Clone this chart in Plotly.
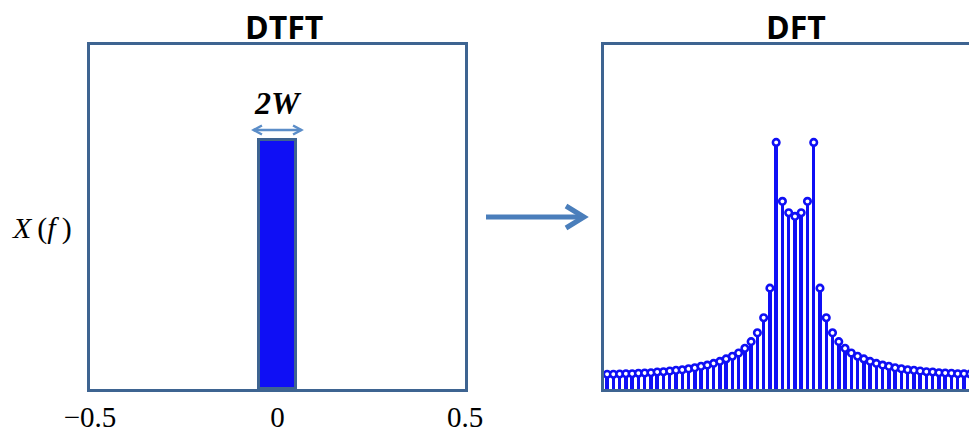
import plotly.graph_objects as go

# ---- data -------------------------------------------------------------
# Ideal band-limited spectrum (DTFT): a rectangle of half-width W around f = 0
W = 0.05
dtft_height = 1.0
dtft_ticks = [-0.5, 0, 0.5]
dtft_ticktext = ["\u22120.5", "0", "0.5"]

# Magnitude of the DFT samples (centred bin index k)
dft_bins = list(range(-30, 31))
dft_mag = [
    0.060, 0.060, 0.061, 0.062, 0.062, 0.064, 0.065, 0.066, 0.069, 0.070,
    0.073, 0.076, 0.078, 0.082, 0.086, 0.092, 0.097, 0.104, 0.112, 0.122,
    0.133, 0.146, 0.165, 0.192, 0.228, 0.289, 0.409, 1.000, 0.761, 0.715,
    0.700,
    0.715, 0.761, 1.000, 0.409, 0.289, 0.228, 0.192, 0.165, 0.146, 0.133,
    0.122, 0.112, 0.104, 0.097, 0.092, 0.086, 0.082, 0.078, 0.076, 0.073,
    0.070, 0.069, 0.066, 0.065, 0.064, 0.062, 0.062, 0.061, 0.060, 0.060,
]

# ---- layout helpers ---------------------------------------------------
FIG_W, FIG_H = 969, 431
BOX = "#3E6491"
BLUE = "#0F0FF5"
ARROW = "#4A7EBB"
ARROW_LIGHT = "#5B8DC8"


def px(x):
    return x / FIG_W


def py(y):
    return 1 - y / FIG_H


fig = go.Figure()

# DTFT rectangle
fig.add_trace(go.Bar(
    x=[0], y=[dtft_height], width=[2 * W],
    marker=dict(color=BLUE, line=dict(color=BOX, width=3)),
    xaxis="x", yaxis="y", showlegend=False, hoverinfo="skip",
))

# DFT stems and heads
fig.add_trace(go.Bar(
    x=dft_bins, y=dft_mag, width=0.55,
    marker=dict(color=BLUE, line=dict(width=0)),
    xaxis="x2", yaxis="y2", showlegend=False, hoverinfo="skip",
))
fig.add_trace(go.Scatter(
    x=dft_bins, y=dft_mag, mode="markers",
    marker=dict(symbol="circle", size=6.5, color="white",
                line=dict(color=BLUE, width=2.6)),
    xaxis="x2", yaxis="y2", showlegend=False, hoverinfo="skip",
    cliponaxis=True,
))

y_dom = [py(389), py(45)]
axis_common = dict(showgrid=False, zeroline=False, showline=True,
                   linecolor=BOX, linewidth=3, automargin=False)

shapes = []
# big arrow between the panels
shapes.append(dict(type="line", xref="paper", yref="paper",
                   x0=px(486), y0=py(217), x1=px(582), y1=py(217),
                   line=dict(color=ARROW, width=5)))
shapes.append(dict(type="path", xref="paper", yref="paper",
                   path=f"M {px(566)},{py(206)} L {px(584)},{py(217)} L {px(566)},{py(228)}",
                   line=dict(color=ARROW, width=5)))
# double-headed width marker above the rectangle
arr_half = W * 1.27
shapes.append(dict(type="line", xref="x", yref="paper",
                   x0=-arr_half, y0=py(130), x1=arr_half, y1=py(130),
                   line=dict(color=ARROW_LIGHT, width=2.5)))
head_dx = 0.022
shapes.append(dict(type="path", xref="x", yref="paper",
                   path=f"M {-arr_half + head_dx},{py(125.5)} L {-arr_half},{py(130)} L {-arr_half + head_dx},{py(134.5)}",
                   line=dict(color=ARROW_LIGHT, width=2.5)))
shapes.append(dict(type="path", xref="x", yref="paper",
                   path=f"M {arr_half - head_dx},{py(125.5)} L {arr_half},{py(130)} L {arr_half - head_dx},{py(134.5)}",
                   line=dict(color=ARROW_LIGHT, width=2.5)))

annotations = [
    dict(text="<b>DTFT</b>", x=px(283.5), y=py(26.5), xref="paper", yref="paper",
         xanchor="center", yanchor="middle", showarrow=False,
         font=dict(family="Open Sans", size=32, color="black")),
    dict(text="<b>DFT</b>", x=px(795.5), y=py(26.5), xref="paper", yref="paper",
         xanchor="center", yanchor="middle", showarrow=False,
         font=dict(family="Open Sans", size=32, color="black")),
    dict(text="<b><i>2W</i></b>", x=0, y=py(102.5), xref="x", yref="paper",
         xanchor="center", yanchor="middle", showarrow=False,
         font=dict(family="Liberation Serif", size=32, color="black")),
    dict(text="<i>X</i>\u2009(<i>f</i>\u2009)", x=px(42), y=py(228), xref="paper", yref="paper",
         xanchor="center", yanchor="middle", showarrow=False,
         font=dict(family="Liberation Serif", size=30, color="black")),
]

fig.update_layout(
    template="none",
    width=FIG_W, height=FIG_H, autosize=False,
    margin=dict(l=0, r=0, t=0, b=0, pad=0, autoexpand=False),
    paper_bgcolor="white", plot_bgcolor="white",
    xaxis=dict(domain=[px(90), px(465)], range=[-0.5, 0.5], mirror=True,
               tickvals=dtft_ticks, ticktext=dtft_ticktext, ticks="",
               ticklen=0, ticklabelstandoff=0,
               tickfont=dict(family="Liberation Serif", size=29, color="black"),
               **axis_common),
    yaxis=dict(domain=y_dom, range=[0, 1.3815], mirror=True,
               showticklabels=False, ticks="", **axis_common),
    xaxis2=dict(domain=[px(604), 1.0], range=[-30.5, 27.8], mirror=True,
                showticklabels=False, ticks="", anchor="y2", **axis_common),
    yaxis2=dict(domain=y_dom, range=[0, 1.395], mirror=False,
                showticklabels=False, ticks="", anchor="x2", **axis_common),
    shapes=shapes,
    annotations=annotations,
    bargap=0,
)

fig.write_html("out.html")
